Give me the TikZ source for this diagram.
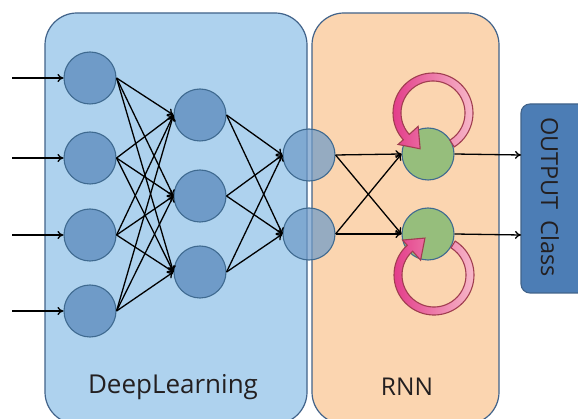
\documentclass[tikz,border=0pt]{standalone}
\usepackage{fontspec}
\setmainfont{Open Sans}
\usetikzlibrary{arrows.meta}
\definecolor{dlfill}{HTML}{AED2EE}
\definecolor{rnnfill}{HTML}{FBD5B0}
\definecolor{boxline}{HTML}{41638A}
\definecolor{outfill}{HTML}{4C7DB5}
\definecolor{neuron}{HTML}{6F9BC8}
\definecolor{neuronline}{HTML}{3F6A90}
\definecolor{recur}{HTML}{96BE7C}
\definecolor{loopdark}{HTML}{E33D8A}
\definecolor{looplight}{HTML}{F7B8C9}
\definecolor{loopline}{HTML}{A03E50}
\definecolor{textdark}{HTML}{231F20}
\tikzset{
  panel/.style={draw=boxline, line width=1.2pt, rounded corners=32pt},
  neuronnode/.style={circle, draw=neuronline, line width=1.1pt, fill=neuron,
    minimum size=52pt, inner sep=0pt},
  sharednode/.style={neuronnode, fill opacity=0.72},
  recurnode/.style={neuronnode, fill=recur},
  edge/.style={draw=black, line width=1.3pt, -{To[length=6pt,width=8pt]}},
  looparrow/.style={draw=loopline, line width=1.1pt, left color=loopdark,
    right color=looplight},
  label/.style={text=textdark}
}
% fat circular arrow: centre (#1,#2), from angle #3 to #4, sense #5 (1 ccw, -1 cw)
\newcommand{\fatloop}[5]{%
  \path[looparrow]
    plot[domain=#3:#4, samples=60] ({#1+40*cos(\x)},{#2-40*sin(\x)})
    -- ({#1+47*cos(#4)},{#2-47*sin(#4)})
    -- ({#1+33.5*cos(#4)+18*cos(#4+#5*90)},{#2-33.5*sin(#4)-18*sin(#4+#5*90)})
    -- ({#1+20*cos(#4)},{#2-20*sin(#4)})
    -- plot[domain=#4:#3, samples=60] ({#1+32*cos(\x)},{#2-32*sin(\x)})
    -- cycle;}
\begin{document}
\begin{tikzpicture}[x=1pt, y=-1pt]
\clip (0,0) rectangle (578,419);
\fill[white] (0,0) rectangle (578,419);

% panels
\path[panel, fill=dlfill] (45,13) rectangle (307,424);
\path[panel, fill=rnnfill] (312,13) rectangle (499,424);
\path[draw=boxline, line width=1.1pt, fill=outfill, rounded corners=9pt] (521,104) rectangle (600,293);
\node[label, font=\fontsize{26}{30}\selectfont] (dltext) at (173,387) {DeepLearning};
\node[label, font=\fontsize{24.5}{28}\selectfont] (rnntext) at (407,387) {RNN};
\node[label, rotate=-90, font=\fontsize{23.5}{27}\selectfont] (outtext) at (550,197) {OUTPUT\hspace{0.45em}Class};
\coordinate (outw1) at (521,155);
\coordinate (outw2) at (521,235);

% input layer
\node[neuronnode] (i1) at (90,78) {};
\node[neuronnode] (i2) at (90,158) {};
\node[neuronnode] (i3) at (90,235) {};
\node[neuronnode] (i4) at (90,311) {};
% hidden layer
\node[neuronnode] (h1) at (200,115) {};
\node[neuronnode] (h2) at (200,196) {};
\node[neuronnode] (h3) at (200,272) {};

% input arrows
\foreach \k/\yy in {1/78,2/158,3/235,4/311}{
  \coordinate (in\k) at (12,\yy);
  \draw[edge] (in\k) -- (i\k.west);
}
% fully connected layers
\foreach \a in {1,2,3,4}{
  \foreach \b in {1,2,3}{
    \draw[edge] (i\a.east) -- (h\b.west);
  }
}

% shared layer between the two panels
\node[sharednode] (m1) at (309,155) {};
\node[sharednode] (m2) at (309,234) {};
\foreach \a in {1,2,3}{
  \foreach \b in {1,2}{
    \draw[edge] (h\a.east) -- (m\b.west);
  }
}

% recurrent units
\node[recurnode] (r1) at (428,154) {};
\node[recurnode] (r2) at (428,234) {};
\foreach \a in {1,2}{
  \foreach \b in {1,2}{
    \draw[edge] (m\a.east) -- (r\b.west);
  }
}
\draw[edge] (r1.east) -- (outw1);
\draw[edge] (r2.east) -- (outw2);

% self-recurrence loops
\fatloop{433}{113}{-58}{222}{1}
\fatloop{434}{275}{58}{-228}{-1}
\end{tikzpicture}
\end{document}
